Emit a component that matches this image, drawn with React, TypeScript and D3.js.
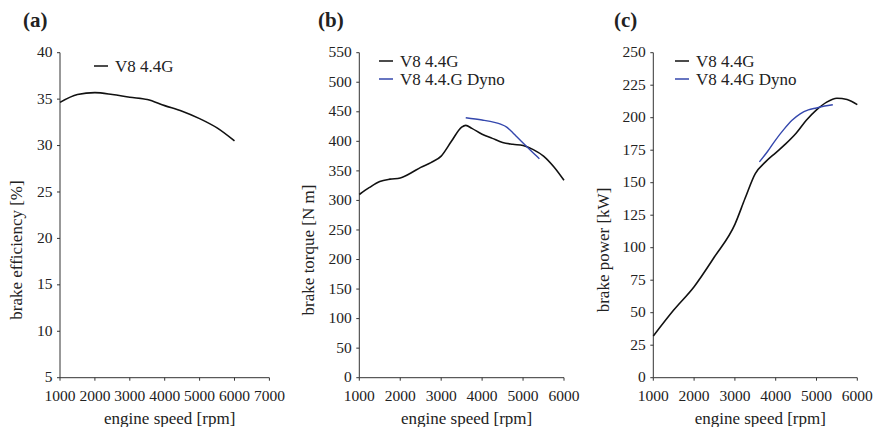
import React from "react";
import * as d3 from "d3";

// ---- data ----
const rpmA = [1000, 1500, 2000, 2500, 3000, 3500, 4000, 4500, 5000, 5500, 6000];
const effA = [34.65, 35.5, 35.7, 35.5, 35.2, 34.95, 34.3, 33.7, 32.9, 31.9, 30.5];

const rpmB = [1000, 1250, 1500, 1750, 2000, 2250, 2500, 2750, 3000, 3250, 3500, 3600, 3750, 4000, 4250, 4500, 4750, 5000, 5250, 5500, 5750, 6000];
const torqueB = [310, 322, 332, 336, 338, 346, 356, 364, 375, 400, 424, 427, 422, 412, 405, 398, 395, 393, 386, 375, 357, 334];
const rpmBDyno = [3600, 4000, 4300, 4450, 4600, 4700, 4800, 5000, 5200, 5400];
const torqueBDyno = [440, 436, 432, 429, 424, 418, 411, 397, 383.5, 370.5];

const rpmC = [1000, 1500, 2000, 2500, 3000, 3250, 3500, 3750, 4000, 4250, 4500, 4750, 5000, 5250, 5500, 5750, 6000];
const powerC = [32, 52, 70, 93, 118, 138, 157, 166, 173, 180, 188, 198, 206, 212, 215, 214, 210];
const rpmCDyno = [3600, 3800, 4000, 4200, 4400, 4600, 4800, 5000, 5200, 5400];
const powerCDyno = [166, 174, 183, 191, 198, 203, 206, 207.5, 209, 210];

const ticksXA = [1000, 2000, 3000, 4000, 5000, 6000, 7000];
const ticksYA = [5, 10, 15, 20, 25, 30, 35, 40];
const ticksXB = [1000, 2000, 3000, 4000, 5000, 6000];
const ticksYB = [0, 50, 100, 150, 200, 250, 300, 350, 400, 450, 500, 550];
const ticksYC = [0, 25, 50, 75, 100, 125, 150, 175, 200, 225, 250];

const BLUE = "#3447ad";
const FONT = "'Liberation Serif', 'Times New Roman', serif";

type Series = { xs: number[]; ys: number[]; color: string; label: string };

function Panel(props: {
  left: number; right: number; xDomain: [number, number]; yDomain: [number, number];
  xTicks: number[]; yTicks: number[]; series: Series[]; letter: string; letterX: number;
  yTitle: string; yTitleX: number; legendX: number; legendY: number;
}) {
  const top = 52.7, bottom = 377.7;
  const x = d3.scaleLinear().domain(props.xDomain).range([props.left, props.right]);
  const y = d3.scaleLinear().domain(props.yDomain).range([bottom, top]);
  const line = d3.line<[number, number]>().x(d => x(d[0])).y(d => y(d[1])).curve(d3.curveMonotoneX);
  const cx = (props.left + props.right) / 2 + 5;
  return (
    <g fontFamily={FONT} fill="#222">
      <text x={props.letterX} y={27} fontSize={21} fontWeight="bold">{props.letter}</text>
      <line x1={props.left} x2={props.left} y1={top} y2={bottom} stroke="#333" strokeWidth={1} />
      <line x1={props.left} x2={props.right} y1={bottom} y2={bottom} stroke="#333" strokeWidth={1} />
      {props.yTicks.map(t => (
        <g key={"y" + t}>
          <line x1={props.left - 3} x2={props.left} y1={y(t)} y2={y(t)} stroke="#333" />
          <text x={props.left - 7.5} y={y(t)} dy="0.3em" textAnchor="end" fontSize={15.5}>{t}</text>
        </g>
      ))}
      {props.xTicks.map(t => (
        <g key={"x" + t}>
          <line x1={x(t)} x2={x(t)} y1={bottom} y2={bottom + 3} stroke="#333" />
          <text x={x(t)} y={400.5} textAnchor="middle" fontSize={15.5}>{t}</text>
        </g>
      ))}
      <text x={cx} y={423.5} textAnchor="middle" fontSize={17}>engine speed [rpm]</text>
      <text transform={`translate(${props.yTitleX},250) rotate(-90)`} textAnchor="middle" fontSize={17} dy="0.35em">{props.yTitle}</text>
      {props.series.map((s, i) => (
        <path key={"s" + i} d={line(s.xs.map((v, j) => [v, s.ys[j]]) as [number, number][]) || ""} fill="none" stroke={s.color} strokeWidth={i === 0 ? 1.6 : 1.4} />
      ))}
      {props.series.map((s, i) => (
        <g key={"l" + i}>
          <line x1={props.legendX} x2={props.legendX + 14} y1={props.legendY + i * 18} y2={props.legendY + i * 18} stroke={s.color} strokeWidth={1.5} />
          <text x={props.legendX + 21} y={props.legendY + i * 18} dy="0.33em" fontSize={17}>{s.label}</text>
        </g>
      ))}
    </g>
  );
}

export default function App() {
  return (
    <svg width={879} height={427} style={{ display: "block", position: "absolute", left: 0, top: 0, background: "#fff" }}>
      <Panel left={60} right={269.4} xDomain={[1000, 7000]} yDomain={[5, 40]} xTicks={ticksXA} yTicks={ticksYA}
        series={[{ xs: rpmA, ys: effA, color: "#111", label: "V8 4.4G" }]}
        letter="(a)" letterX={23} yTitle="brake efficiency [%]" yTitleX={16} legendX={94} legendY={66} />
      <Panel left={359.3} right={564} xDomain={[1000, 6000]} yDomain={[0, 550]} xTicks={ticksXB} yTicks={ticksYB}
        series={[{ xs: rpmB, ys: torqueB, color: "#111", label: "V8 4.4G" }, { xs: rpmBDyno, ys: torqueBDyno, color: BLUE, label: "V8 4.4.G Dyno" }]}
        letter="(b)" letterX={318} yTitle="brake torque [N m]" yTitleX={308} legendX={379} legendY={61} />
      <Panel left={653.3} right={857.3} xDomain={[1000, 6000]} yDomain={[0, 250]} xTicks={ticksXB} yTicks={ticksYC}
        series={[{ xs: rpmC, ys: powerC, color: "#111", label: "V8 4.4G" }, { xs: rpmCDyno, ys: powerCDyno, color: BLUE, label: "V8 4.4G Dyno" }]}
        letter="(c)" letterX={614} yTitle="brake power [kW]" yTitleX={603} legendX={675} legendY={61} />
    </svg>
  );
}
